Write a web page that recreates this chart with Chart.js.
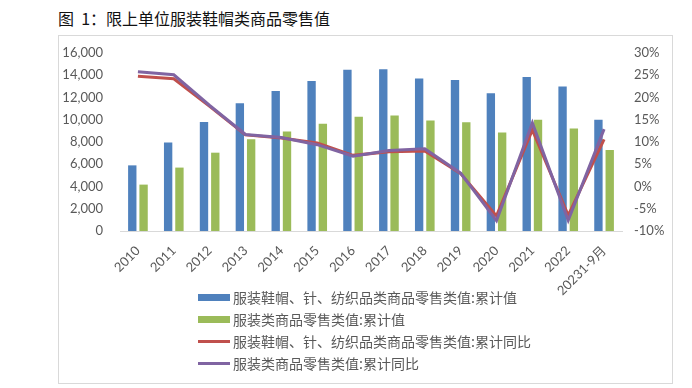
<!DOCTYPE html>
<html>
<head>
<meta charset="utf-8">
<script src="https://cdn.jsdelivr.net/npm/chart.js@4"></script>
<style>
  body { margin: 0; width: 692px; height: 388px; background: #fff; position: relative; overflow: hidden; }
  #title { position: absolute; left: 58px; top: 6px; font: 16px "Noto Sans CJK SC", sans-serif; color: #111; white-space: pre; }
  #box { position: absolute; left: 58px; top: 35px; width: 615px; height: 349px; border: 1px solid #d9d9d9; box-sizing: border-box; }
  #box canvas { position: absolute; left: 0; top: 0; }
  #legend { position: absolute; left: 139px; top: 250px; list-style: none; margin: 0; padding: 0; font: 14px "Noto Sans CJK SC", sans-serif; color: #595959; }
  #legend li { height: 22px; line-height: 22px; display: flex; align-items: center; white-space: nowrap; }
  #legend i { display: inline-block; width: 32px; margin-right: 3px; }
</style>
</head>
<body>
<div id="title">图  1：限上单位服装鞋帽类商品零售值</div>
<div id="box">
  <canvas id="chart" width="613" height="347"></canvas>
  <ul id="legend"></ul>
</div>
<script>
const years = ["2010", "2011", "2012", "2013", "2014", "2015", "2016", "2017", "2018", "2019", "2020", "2021", "2022", "20231-9月"];
const clothingTextileValue = [5900, 7950, 9800, 11480, 12590, 13490, 14490, 14550, 13710, 13580, 12380, 13840, 13000, 9990];
const clothingValue = [4170, 5700, 7040, 8240, 8940, 9630, 10270, 10380, 9930, 9780, 8850, 9990, 9210, 7280];
const clothingTextileYoY = [24.8, 24.2, 18.0, 11.6, 10.9, 9.8, 7.0, 7.8, 8.0, 2.9, -6.6, 12.7, -6.5, 10.6];
const clothingYoY = [25.8, 25.1, 18.2, 11.7, 11.0, 9.4, 6.8, 8.1, 8.5, 3.0, -7.7, 14.3, -7.6, 12.9];
const leftTicks = [0, 2000, 4000, 6000, 8000, 10000, 12000, 14000, 16000];
const rightTicks = [-10, -5, 0, 5, 10, 15, 20, 25, 30];

const names = [
    "服装鞋帽、针、纺织品类商品零售类值:累计值",
    "服装类商品零售类值:累计值",
    "服装鞋帽、针、纺织品类商品零售类值:累计同比",
    "服装类商品零售类值:累计同比"
];
const colors = ["#4f81bd", "#9bbb59", "#c0504d", "#8064a2"];
const tickFont = { family: "Lato, 'Noto Sans CJK SC', sans-serif", size: 13 };

// fixed axis width, and keep the tick padding from pushing the plot down
function fixAxis(w) {
    return s => { s.width = w; s.paddingTop = 8; s.paddingBottom = 8; };
}

const ctx = document.getElementById("chart").getContext("2d");
const myChart = new Chart(ctx, {
    type: "bar",
    data: {
        labels: years,
        datasets: [
            { label: names[0], data: clothingTextileValue, backgroundColor: colors[0], yAxisID: "y", order: 3, categoryPercentage: 0.63, barPercentage: 0.74 },
            { label: names[1], data: clothingValue, backgroundColor: colors[1], yAxisID: "y", order: 3, categoryPercentage: 0.63, barPercentage: 0.74 },
            { type: "line", label: names[2], data: clothingTextileYoY, borderColor: colors[2], backgroundColor: colors[2], borderWidth: 3, pointRadius: 0, tension: 0, yAxisID: "y1", order: 1 },
            { type: "line", label: names[3], data: clothingYoY, borderColor: colors[3], backgroundColor: colors[3], borderWidth: 3, pointRadius: 0, tension: 0, yAxisID: "y1", order: 0 }
        ]
    },
    options: {
        responsive: false,
        animation: false,
        layout: { padding: { top: 17, left: 0, right: 0, bottom: 0 } },
        plugins: { legend: { display: false }, tooltip: { enabled: false } },
        scales: {
            x: {
                grid: { display: false },
                border: { display: true, color: "#d9d9d9", width: 1 },
                ticks: { color: "#595959", font: tickFont, maxRotation: 45, minRotation: 45, padding: 4, autoSkip: false },
                afterFit: s => { s.height = 152; }
            },
            y: {
                position: "left",
                min: 0, max: 16000,
                grid: { display: false, drawTicks: false },
                border: { display: false },
                afterBuildTicks: s => { s.ticks = leftTicks.map(v => ({ value: v })); },
                ticks: { color: "#595959", font: tickFont, padding: 17, callback: v => v.toLocaleString("en-US") },
                afterFit: fixAxis(61)
            },
            y1: {
                position: "right",
                min: -10, max: 30,
                grid: { display: false, drawTicks: false },
                border: { display: false },
                afterBuildTicks: s => { s.ticks = rightTicks.map(v => ({ value: v })); },
                ticks: { color: "#595959", font: tickFont, padding: 12, callback: v => v + "%" },
                afterFit: fixAxis(50)
            }
        }
    }
});

// legend as stacked rows, like the original
legend.innerHTML = myChart.data.datasets.map((d, i) => {
    const h = d.type === "line" ? 3 : 7;
    return `<li><i style="height:${h}px;background:${colors[i]}"></i>${d.label}</li>`;
}).join("");
</script>
</body>
</html>
